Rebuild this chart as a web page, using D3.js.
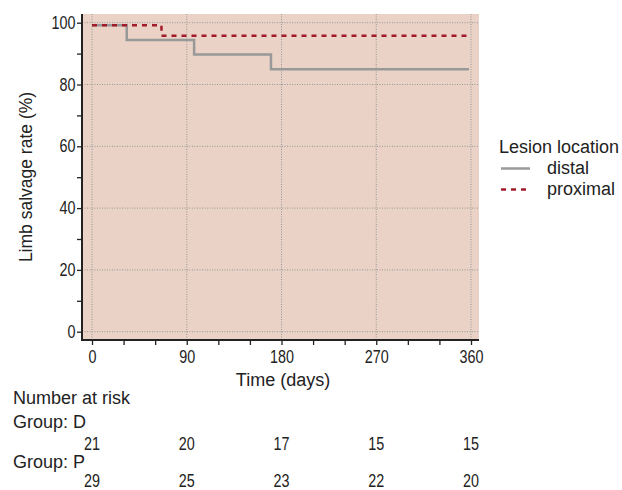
<!DOCTYPE html>
<html>
<head>
<meta charset="utf-8">
<script src="https://cdn.jsdelivr.net/npm/d3@7"></script>
<style>
  body { margin: 0; background: #fff; }
  text { fill: #222; }
  .lbl { font-family: "Liberation Sans", Arial, sans-serif; font-size: 18px; }
  .num { font-family: "Liberation Sans", Arial, sans-serif; font-size: 17.5px; }
</style>
</head>
<body>
<script>
// curves
const distalTime = [0, 33, 97, 170, 358];
const distalRate = [99.2, 94.4, 89.7, 84.9, 84.9];
const proximalTime = [0, 66, 358];
const proximalRate = [99.2, 95.8, 95.8];

const riskTimes = [0, 90, 180, 270, 360];
const riskD = [21, 20, 17, 15, 15];
const riskP = [29, 25, 23, 22, 20];

const width = 622,
  height = 490,
  narrow = 0.82, // digits in the picture are condensed
  plot = { left: 82, right: 479, top: 14, bottom: 340 };

const svg = d3
  .select("body")
  .append("svg")
  .attr("width", width)
  .attr("height", height);

const x = d3.scaleLinear().domain([0, 360]).range([92, 471]);
const y = d3.scaleLinear().domain([0, 100]).range([331.7, 22.7]);

// background
svg
  .append("rect")
  .attr("x", plot.left)
  .attr("y", plot.top)
  .attr("width", plot.right - plot.left)
  .attr("height", plot.bottom - plot.top)
  .attr("fill", "#EAD2C6");

// grid
const grid = svg.append("g").attr("stroke", "#979797").attr("stroke-width", 1).attr("stroke-dasharray", "1,1.5");
grid
  .selectAll("line.h")
  .data(d3.range(0, 101, 20))
  .enter()
  .append("line")
  .attr("x1", plot.left)
  .attr("x2", plot.right)
  .attr("y1", d => y(d))
  .attr("y2", d => y(d));
grid
  .selectAll("line.v")
  .data(riskTimes)
  .enter()
  .append("line")
  .attr("y1", plot.top)
  .attr("y2", plot.bottom)
  .attr("x1", d => x(d))
  .attr("x2", d => x(d));

// axes
const yAxis = d3
  .axisLeft(y)
  .tickValues(d3.range(0, 101, 10))
  .tickSize(5)
  .tickPadding(1.5)
  .tickFormat(d => (d % 20 === 0 ? d : ""));
const gy = svg.append("g").attr("transform", `translate(${plot.left},0)`).call(yAxis);

const xAxis = d3
  .axisBottom(x)
  .tickValues(d3.range(0, 361, 30))
  .tickSize(5)
  .tickPadding(6)
  .tickFormat(d => (d % 90 === 0 ? d : ""));
const gx = svg.append("g").attr("transform", `translate(0,${plot.bottom})`).call(xAxis);

[gx, gy].forEach(g => {
  g.select(".domain").remove();
  g.selectAll(".tick line").attr("stroke", "#222").attr("stroke-width", 1.3);
  g.selectAll(".tick text")
    .attr("class", "num")
    .attr("font-family", null)
    .attr("font-size", null)
    .attr("transform", `scale(${narrow},1)`);
});
gy.selectAll(".tick text").attr("x", -6.5 / narrow);

svg
  .append("path")
  .attr("d", `M${plot.left},${plot.top}V${plot.bottom}H${plot.right}`)
  .attr("fill", "none")
  .attr("stroke", "#222")
  .attr("stroke-width", 2);

// curves
const line = d3
  .line()
  .x(d => x(d[0]))
  .y(d => y(d[1]))
  .curve(d3.curveStepAfter);

svg
  .append("path")
  .datum(d3.zip(distalTime, distalRate))
  .attr("d", line)
  .attr("fill", "none")
  .attr("stroke", "#999999")
  .attr("stroke-width", 2.5);

svg
  .append("path")
  .datum(d3.zip(proximalTime, proximalRate))
  .attr("d", line)
  .attr("fill", "none")
  .attr("stroke", "#A21B2A")
  .attr("stroke-width", 2.5)
  .attr("stroke-dasharray", "5,5");

// axis titles
svg
  .append("text")
  .attr("class", "lbl")
  .style("font-size", "17.5px")
  .attr("transform", `translate(32,${(plot.top + plot.bottom) / 2}) rotate(-90)`)
  .attr("text-anchor", "middle")
  .text("Limb salvage rate (%)");

svg
  .append("text")
  .attr("class", "lbl")
  .attr("x", 283)
  .attr("y", 386)
  .attr("text-anchor", "middle")
  .text("Time (days)");

// number at risk
svg.append("text").attr("class", "lbl").attr("x", 13).attr("y", 404).text("Number at risk");
svg.append("text").attr("class", "lbl").attr("x", 13).attr("y", 427.5).text("Group: D");
svg.append("text").attr("class", "lbl").attr("x", 13).attr("y", 467.5).text("Group: P");

const riskRow = (vals, yy) =>
  svg
    .append("g")
    .selectAll("text")
    .data(vals)
    .enter()
    .append("text")
    .attr("class", "num")
    .attr("text-anchor", "middle")
    .attr("transform", (d, i) => `translate(${x(riskTimes[i])},${yy}) scale(${narrow},1)`)
    .text(d => d);

riskRow(riskD, 450);
riskRow(riskP, 487);

// legend
const legend = svg.append("g");
legend.append("text").attr("class", "lbl").attr("x", 499).attr("y", 153).text("Lesion location");
const items = [
  { name: "distal", color: "#999999", dash: null },
  { name: "proximal", color: "#A21B2A", dash: "5,5" }
];
items.forEach((it, i) => {
  const yy = 168.5 + i * 21;
  legend
    .append("line")
    .attr("x1", 501)
    .attr("x2", 530)
    .attr("y1", yy)
    .attr("y2", yy)
    .attr("stroke", it.color)
    .attr("stroke-width", 2.5)
    .attr("stroke-dasharray", it.dash);
  legend
    .append("text")
    .attr("class", "lbl")
    .attr("x", 547)
    .attr("y", yy + 5)
    .text(it.name);
});
</script>
</body>
</html>
